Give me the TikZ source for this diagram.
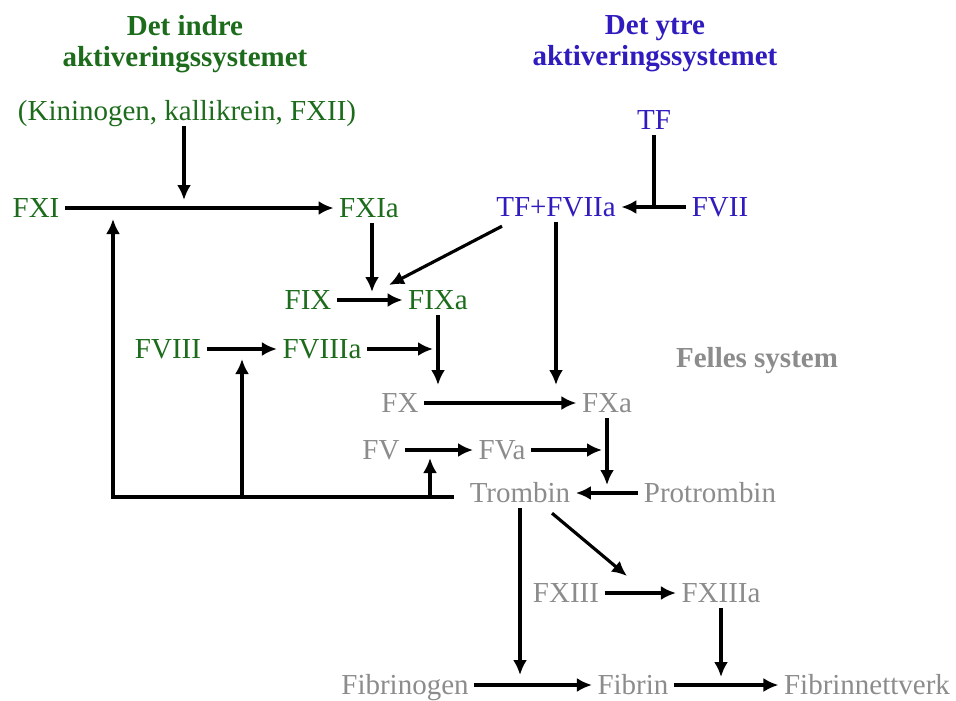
\documentclass[tikz,border=0pt]{standalone}
\usepackage{fontspec}
\setmainfont{Liberation Serif}
\usepackage{xcolor}
\usepackage{tikz}
\usetikzlibrary{arrows.meta,positioning,calc}
\definecolor{intgreen}{RGB}{28,108,28}
\definecolor{extblue}{RGB}{48,28,190}
\definecolor{comgray}{RGB}{140,140,140}

\begin{document}
\begin{tikzpicture}[
  x=0.02cm, y=-0.02cm,
  every node/.style={font=\fontsize{16.5}{17.5}\selectfont},
  factor/.style={inner sep=3pt, text height=10.9pt, text depth=0pt},
  intr/.style={factor, text=intgreen},
  extr/.style={factor, text=extblue},
  common/.style={factor, text=comgray},
  heading/.style={font=\fontsize{16.5}{17.5}\selectfont\bfseries,
    align=center, inner sep=0pt},
  arrow/.style={-{Latex[length=3mm, width=2.8mm]}, line width=1.8pt},
  link/.style={line width=1.8pt}
]
  \useasboundingbox (0,0) rectangle (956,700);

  % headings
  \node[heading, text=intgreen] (inhead) at (185,44) {Det indre\\aktiveringssystemet};
  \node[heading, text=extblue] (exhead) at (655,44) {Det ytre\\aktiveringssystemet};
  \node[common, font=\fontsize{16.5}{17.5}\selectfont\bfseries] (felles) at (757,358) {Felles system};

  % intrinsic pathway
  \node[intr] (kin) at (187,111) {(Kininogen, kallikrein, FXII)};
  \node[intr] (FXI) at (36,208) {FXI};
  \node[intr] (FXIa) at (369,208) {FXIa};
  \node[intr] (FIX) at (308,300) {FIX};
  \node[intr] (FIXa) at (438,300) {FIXa};
  \node[intr] (FVIII) at (168,349) {FVIII};
  \node[intr] (FVIIIa) at (322,349) {FVIIIa};

  % extrinsic pathway
  \node[extr] (TF) at (654,120) {TF};
  \node[extr] (TFVIIa) at (556,207) {TF+FVIIa};
  \node[extr] (FVII) at (720,207) {FVII};

  % common pathway
  \node[common] (FX) at (400,403) {FX};
  \node[common] (FXa) at (607,403) {FXa};
  \node[common] (FV) at (381,450) {FV};
  \node[common] (FVa) at (502,450) {FVa};
  \node[common] (Trombin) at (520,493) {Trombin};
  \node[common] (Protrombin) at (710,493) {Protrombin};
  \node[common] (FXIII) at (566,593) {FXIII};
  \node[common] (FXIIIa) at (721,593) {FXIIIa};
  \node[common] (Fibrinogen) at (405,685) {Fibrinogen};
  \node[common] (Fibrin) at (633,685) {Fibrin};
  \node[common] (Fibnet) at (867,685) {Fibrinnettverk};

  % where arrows meet other arrows
  \coordinate (kinhit) at (184,200);
  \coordinate (ixhit) at (372,292);
  \coordinate (diaghit) at (389,285);
  \coordinate (viiihit) at (433,349);
  \coordinate (xhit) at (438,385);
  \coordinate (xahit) at (556,385);
  \coordinate (vahit) at (602,450);
  \coordinate (trhit) at (607,485);
  \coordinate (xiiihit) at (627,576);
  \coordinate (fibhit) at (520,675);
  \coordinate (nethit) at (721,677);
  \coordinate (fbleft) at (113,497);
  \coordinate (fbmid) at (242,497);
  \coordinate (fbright) at (430,497);
  \coordinate (xiup) at (113,219);
  \coordinate (viiiup) at (242,359);
  \coordinate (vup) at (430,458);

  \draw[arrow] (FXI) -- (FXIa);
  \draw[arrow] (kin.south -| kinhit) -- (kinhit);
  \draw[arrow] (FXIa.south -| ixhit) -- (ixhit);
  \draw[arrow] (FIX) -- (FIXa);
  \draw[arrow] (FVIII) -- (FVIIIa);
  \draw[arrow] (FVIIIa) -- (viiihit);
  \draw[arrow] (FIXa) -- (xhit);

  \draw[link] (TF) -- (TF |- FVII);
  \draw[arrow] (FVII) -- (TFVIIa);
  \draw[arrow] ([shift={(-54,4)}]TFVIIa.south) -- (diaghit);
  \draw[arrow] (TFVIIa) -- (xahit);

  \draw[arrow] (FX) -- (FXa);
  \draw[arrow] (FV) -- (FVa);
  \draw[arrow] (FVa) -- (vahit);
  \draw[arrow] (FXa) -- (trhit);
  \draw[arrow] (Protrombin) -- (Trombin);

  % thrombin feedback
  \draw[arrow] ([xshift=-6pt]Trombin.west |- fbleft) -- (fbleft) -- (xiup);
  \draw[arrow] (fbmid) -- (viiiup);
  \draw[arrow] (fbright) -- (vup);

  \draw[arrow] (Trombin) -- (fibhit);
  \draw[arrow] ([shift={(32,5)}]Trombin.south) -- (xiiihit);
  \draw[arrow] (FXIII) -- (FXIIIa);
  \draw[arrow] (FXIIIa) -- (nethit);
  \draw[arrow] (Fibrinogen) -- (Fibrin);
  \draw[arrow] (Fibrin) -- (Fibnet);
\end{tikzpicture}
\end{document}
